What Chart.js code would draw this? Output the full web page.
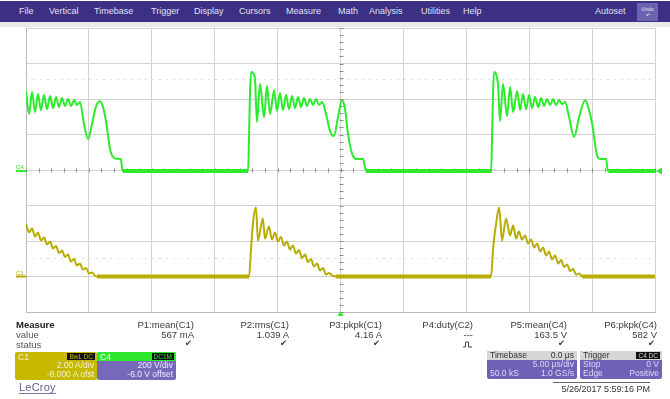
<!DOCTYPE html>
<html>
<head>
<meta charset="utf-8">
<script src="https://cdn.jsdelivr.net/npm/chart.js@4/dist/chart.umd.min.js"></script>
<style>
html,body{margin:0;padding:0;background:#fff;}
body{width:670px;height:399px;position:relative;overflow:hidden;font-family:"Liberation Sans",Arial,sans-serif;}
#menu{position:absolute;left:0;top:1px;width:670px;height:21px;background:#3b3083;}
#menu span{position:absolute;top:5px;font-size:9px;color:#e2e0f2;white-space:nowrap;}
#undo{position:absolute;left:637px;top:2px;width:21px;height:18px;background:#6c63b0;color:#e8e6f8;font-size:5px;text-align:center;line-height:6px;padding-top:3px;box-sizing:border-box;}
#strip{position:absolute;left:0;top:22px;width:670px;height:5px;background:#e8e8ed;}
#scope{position:absolute;left:0;top:0;}
.t{position:absolute;font-size:9.5px;color:#3a3a3a;white-space:nowrap;}
.r{text-align:right;}
.panel{position:absolute;box-sizing:border-box;border-radius:2px;font-size:8.5px;white-space:nowrap;overflow:hidden;}
.badge{position:absolute;top:1px;right:2px;background:#111;font-size:6.5px;padding:0 2px;line-height:7px;}
.row{position:absolute;left:3px;right:3px;height:9px;line-height:9px;}
.row .a{position:absolute;left:0;}
.row .b{position:absolute;right:0;}
</style>
</head>
<body>
<div id="menu">
  <span style="left:19px">File</span>
  <span style="left:49px">Vertical</span>
  <span style="left:94px">Timebase</span>
  <span style="left:151px">Trigger</span>
  <span style="left:194px">Display</span>
  <span style="left:239px">Cursors</span>
  <span style="left:286px">Measure</span>
  <span style="left:338px">Math</span>
  <span style="left:369px">Analysis</span>
  <span style="left:421px">Utilities</span>
  <span style="left:463px">Help</span>
  <span style="left:595px">Autoset</span>
  <div id="undo">Undo<br>↶</div>
</div>
<div id="strip"></div>
<canvas id="scope" width="670" height="399"></canvas>

<div class="t" style="left:16px;top:319px;font-weight:bold;color:#222;">Measure</div>
<div class="t" style="left:16px;top:329px;color:#555;">value</div>
<div class="t" style="left:16px;top:339px;color:#555;">status</div>
<div id="measure"></div>

<!-- channel C1 -->
<div class="panel" style="left:15px;top:352px;width:82px;height:28px;background:#c6b900;color:#f6f3d0;">
  <div style="position:absolute;left:3px;top:0;">C1</div>
  <div class="badge" style="color:#c6b900;">BwL DC</div>
  <div class="row" style="top:9px;"><span class="b">2.00 A/div</span></div>
  <div class="row" style="top:18px;"><span class="b">-8.000 A ofst</span></div>
</div>
<!-- channel C4 -->
<div class="panel" style="left:97px;top:352px;width:79px;height:28px;background:#7769ba;color:#eeeaff;">
  <div style="position:absolute;left:0;top:0;width:100%;height:9px;background:#2de82d;"></div>
  <div style="position:absolute;left:3px;top:0;color:#f4fff4;">C4</div>
  <div class="badge" style="color:#2de82d;">DC1M</div>
  <div class="row" style="top:9px;"><span class="b">200 V/div</span></div>
  <div class="row" style="top:18px;"><span class="b">-6.0 V offset</span></div>
</div>
<div style="position:absolute;left:19px;top:381px;font-size:11px;color:#605c8e;border-bottom:1px solid #7a76a6;line-height:12px;letter-spacing:0.2px;">LeCroy</div>

<!-- timebase -->
<div class="panel" style="left:487px;top:351px;width:90px;height:28px;background:#6f62b6;color:#dcd8fa;">
  <div style="position:absolute;left:0;top:0;width:100%;height:9px;background:#d6d6d9;"></div>
  <div class="row" style="top:0;color:#333;"><span class="a">Timebase</span><span class="b">0.0 µs</span></div>
  <div class="row" style="top:9px;"><span class="b">5.00 µs/div</span></div>
  <div class="row" style="top:18px;"><span class="a">50.0 kS</span><span class="b">1.0 GS/s</span></div>
</div>
<!-- trigger -->
<div class="panel" style="left:580px;top:351px;width:82px;height:28px;background:#6f62b6;color:#dcd8fa;">
  <div style="position:absolute;left:0;top:0;width:100%;height:9px;background:#d6d6d9;"></div>
  <div class="row" style="top:0;color:#333;"><span class="a">Trigger</span></div>
  <div class="badge" style="color:#d6d6d9;">C4 DC</div>
  <div class="row" style="top:9px;"><span class="a">Stop</span><span class="b">0 V</span></div>
  <div class="row" style="top:18px;"><span class="a">Edge</span><span class="b">Positive</span></div>
</div>
<div class="t" style="left:553px;top:382px;width:97px;border-top:1px solid #666;font-size:9px;color:#333;text-align:right;padding-top:1px;">5/26/2017 5:59:16 PM</div>

<script>
// Time axis: µs, 5 µs/div, trigger at 0
const timeRange = [-25, 25];

// C4 (switch-node voltage, V)
const c4Time = [
  -25.00, -24.76, -24.52, -24.28, -24.05, -23.81, -23.57, -23.33, -23.09, -22.85,
  -22.61, -22.38, -22.14, -21.90, -21.66, -21.42, -21.18, -20.95, -20.71, -20.39,
  -20.07, -19.75, -19.43, -19.12, -18.88, -18.64, -18.32, -18.08, -17.77, -17.45,
  -17.37, -17.29, -7.35,
  -7.27, -7.19, -7.11, -6.96, -6.80, -6.64, -6.40, -6.08, -5.84, -5.60,
  -5.28, -5.05, -4.81, -4.57, -4.33, -4.09, -3.85, -3.62, -3.38, -3.14,
  -2.90, -2.66, -2.42, -2.19, -1.95, -1.71, -1.47, -1.15, -0.83, -0.52,
  -0.20, 0.12, 0.36, 0.60, 0.99, 1.31, 1.79, 1.95, 2.03, 11.97,
  12.05, 12.13, 12.21, 12.37, 12.53, 12.68, 12.92, 13.24, 13.48, 13.72,
  14.04, 14.27, 14.51, 14.75, 14.99, 15.23, 15.47, 15.71, 15.95, 16.18,
  16.42, 16.66, 16.90, 17.14, 17.38, 17.62, 17.85, 18.17, 18.57, 18.97,
  19.45, 19.69, 20.01, 20.40, 20.64, 21.12, 21.20, 21.28, 25.00
];
const c4Volts = [
  451, 321, 445, 332, 434, 344, 428, 349, 423, 355,
  417, 361, 411, 366, 406, 366, 400, 372, 389, 265,
  180, 265, 366, 394, 361, 282, 124, 79, 70, 68,
  20, 0, 0,
  200, 450, 558, 552, 520, 276, 490, 304, 479, 321,
  456, 338, 439, 344, 428, 349, 423, 355, 417, 361,
  411, 366, 406, 372, 406, 372, 389, 321, 225, 197,
  304, 400, 349, 208, 85, 68, 68, 20, 0, 0,
  200, 450, 558, 546, 480, 282, 490, 310, 473, 332,
  451, 344, 434, 349, 428, 355, 417, 361, 411, 366,
  406, 372, 406, 372, 400, 377, 389, 304, 192, 304,
  400, 361, 265, 85, 68, 68, 20, 0, 0
];

// C1 (inductor current, A)
const c1Time = [
  -25.00, -24.76, -24.52, -24.28, -24.05, -23.81, -23.57, -23.33, -23.09, -22.85,
  -22.61, -22.38, -22.14, -21.90, -21.66, -21.42, -21.18, -20.95, -20.71, -20.47,
  -20.23, -19.99, -19.75, -19.51, -19.36, -7.27,
  -7.11, -6.96, -6.72, -6.56, -6.17, -6.01, -5.69, -5.45, -5.21, -4.97,
  -4.73, -4.49, -4.26, -4.02, -3.78, -3.54, -3.30, -3.06, -2.82, -2.58,
  -2.34, -2.11, -1.87, -1.63, -1.39, -1.15, -0.91, -0.60, -0.36, 11.97,
  12.13, 12.37, 12.61, 12.84, 13.16, 13.48, 13.72, 13.96, 14.19, 14.43,
  14.67, 14.91, 15.15, 15.39, 15.63, 15.87, 16.11, 16.34, 16.58, 16.82,
  17.06, 17.30, 17.54, 17.78, 18.01, 18.25, 18.49, 18.73, 18.97, 19.21, 25.00
];
const c1Amps = [
  2.99, 2.48, 2.70, 2.25, 2.48, 2.03, 2.20, 1.80, 1.97, 1.58,
  1.72, 1.32, 1.46, 1.10, 1.24, 0.85, 0.99, 0.62, 0.73, 0.39,
  0.48, 0.17, 0.23, 0.03, 0, 0,
  1.58, 2.99, 3.89, 2.03, 3.27, 2.14, 2.82, 2.08, 2.48, 1.97,
  2.23, 1.75, 1.97, 1.52, 1.75, 1.30, 1.49, 1.04, 1.24, 0.82,
  0.99, 0.56, 0.73, 0.34, 0.48, 0.11, 0.20, 0.03, 0, 0,
  1.58, 2.99, 3.89, 2.03, 3.27, 2.31, 2.87, 2.14, 2.54, 2.08,
  2.31, 1.86, 2.08, 1.63, 1.86, 1.41, 1.63, 1.18, 1.41, 0.96,
  1.18, 0.73, 0.93, 0.54, 0.68, 0.31, 0.42, 0.11, 0.17, 0, 0
];

// Faint level markers
const c4Level = 520;   // V
const c1Level = 1.04;  // A

// Measurement readout
const measureNames  = ['P1:mean(C1)', 'P2:rms(C1)', 'P3:pkpk(C1)', 'P4:duty(C2)', 'P5:mean(C4)', 'P6:pkpk(C4)'];
const measureValues = ['567 mA', '1.039 A', '4.16 A', '---', '163.5 V', '582 V'];
const measureStatus = ['ok', 'ok', 'ok', 'pulse', 'ok', 'ok'];

const colRight = [194, 289, 382, 473, 567, 657];
const meas = document.getElementById('measure');
measureNames.forEach((name, i) => {
  const right = 670 - colRight[i];
  meas.insertAdjacentHTML('beforeend',
    `<div class="t r" style="right:${right}px;top:319px;">${name}</div>` +
    `<div class="t r" style="right:${right}px;top:329px;">${measureValues[i]}</div>`);
  const st = measureStatus[i] === 'ok'
    ? `<div class="t r" style="right:${right + 2}px;top:338px;font-family:'DejaVu Sans';font-size:8.5px;color:#3a3a3a;">✔</div>`
    : `<svg style="position:absolute;left:${colRight[i] - 10}px;top:341px" width="9" height="7"><path d="M0 6H2.5V1H5.5V6H9" fill="none" stroke="#444" stroke-width="1"/></svg>`;
  meas.insertAdjacentHTML('beforeend', st);
});

const zip = (xs, ys) => xs.map((x, i) => ({ x, y: ys[i] }));

const GREEN = '#2cea2c';
const YELLOW = '#b7ad00';

// thicker band where the trace sits on its noisy baseline
const bandWidth = (thin, thick) => ctx =>
  (ctx.p0.parsed.y === 0 && ctx.p1.parsed.y === 0) ? thick : thin;

const scopeMarks = {
  id: 'scopeMarks',
  beforeDatasetsDraw(chart) {
    const { ctx, chartArea: a, scales } = chart;
    const sx = scales.x, sy = scales.y;
    ctx.save();
    ctx.lineWidth = 1;
    ctx.strokeStyle = '#dedede';
    ctx.setLineDash([2, 5]);
    [scales.yV.getPixelForValue(c4Level), scales.yA.getPixelForValue(c1Level)].forEach(py => {
      ctx.beginPath();
      ctx.moveTo(a.left, Math.round(py) + 0.5);
      ctx.lineTo(a.right, Math.round(py) + 0.5);
      ctx.stroke();
    });
    ctx.setLineDash([]);
    ctx.strokeStyle = '#8c8c8c';
    const cx = Math.round(sx.getPixelForValue(0)) + 0.5;
    const cy = Math.round(sy.getPixelForValue(0)) + 0.5;
    ctx.beginPath();
    for (let t = timeRange[0]; t <= timeRange[1]; t += 1) {
      const px = Math.round(sx.getPixelForValue(t)) + 0.5;
      ctx.moveTo(px, cy - 2); ctx.lineTo(px, cy + 2);
    }
    for (let d = -20; d <= 20; d += 1) {
      const py = Math.round(sy.getPixelForValue(d / 5)) + 0.5;
      ctx.moveTo(cx - 2, py); ctx.lineTo(cx + 2, py);
    }
    ctx.stroke();
    ctx.restore();
  },
  afterDatasetsDraw(chart) {
    const { ctx, chartArea: a, scales } = chart;
    ctx.save();
    ctx.font = '6px "Liberation Sans", Arial, sans-serif';
    ctx.textBaseline = 'alphabetic';
    // ground markers
    const g4 = scales.yV.getPixelForValue(0);
    const g1 = scales.yA.getPixelForValue(0);
    ctx.fillStyle = GREEN;
    ctx.fillText('C4', 16, g4 - 2);
    ctx.fillRect(16, g4 - 1, a.left - 16, 2);
    ctx.fillStyle = YELLOW;
    ctx.fillText('C1', 16, g1 - 2);
    ctx.fillRect(16, g1 - 1, a.left - 16, 2);
    // trigger level (right) and trigger position (bottom)
    ctx.fillStyle = GREEN;
    ctx.beginPath();
    ctx.moveTo(a.right + 1, g4);
    ctx.lineTo(a.right + 7, g4 - 3.5);
    ctx.lineTo(a.right + 7, g4 + 3.5);
    ctx.closePath();
    ctx.fill();
    const tx = scales.x.getPixelForValue(0);
    ctx.beginPath();
    ctx.moveTo(tx, a.bottom - 1);
    ctx.lineTo(tx - 3, a.bottom + 4);
    ctx.lineTo(tx + 3, a.bottom + 4);
    ctx.closePath();
    ctx.fill();
    ctx.restore();
  }
};

new Chart(document.getElementById('scope'), {
  type: 'line',
  data: {
    datasets: [
      {
        label: 'C4',
        data: zip(c4Time, c4Volts),
        yAxisID: 'yV',
        borderColor: GREEN,
        borderWidth: 2,
        pointRadius: 0,
        cubicInterpolationMode: 'monotone',
        segment: { borderWidth: bandWidth(2, 4) }
      },
      {
        label: 'C1',
        data: zip(c1Time, c1Amps),
        yAxisID: 'yA',
        borderColor: YELLOW,
        borderWidth: 2,
        pointRadius: 0,
        cubicInterpolationMode: 'monotone',
        segment: { borderWidth: bandWidth(2, 4) }
      }
    ]
  },
  options: {
    responsive: false,
    animation: false,
    events: [],
    layout: { padding: { left: 26, right: 15, top: 28, bottom: 87 } },
    plugins: { legend: { display: false }, tooltip: { enabled: false } },
    scales: {
      x: {
        type: 'linear', min: timeRange[0], max: timeRange[1],
        ticks: { stepSize: 5, display: false },
        grid: { color: '#d2d2d2', drawTicks: false },
        border: { color: '#bcbcbc' }
      },
      y: {
        type: 'linear', min: -4, max: 4,
        ticks: { stepSize: 1, display: false },
        grid: { color: '#d2d2d2', drawTicks: false },
        border: { color: '#bcbcbc' }
      },
      // 200 V/div, -6 V offset
      yV: { type: 'linear', display: false, min: -794, max: 806 },
      // 2 A/div
      yA: { type: 'linear', display: false, min: -2, max: 14 }
    }
  },
  plugins: [scopeMarks]
});
</script>
</body>
</html>
